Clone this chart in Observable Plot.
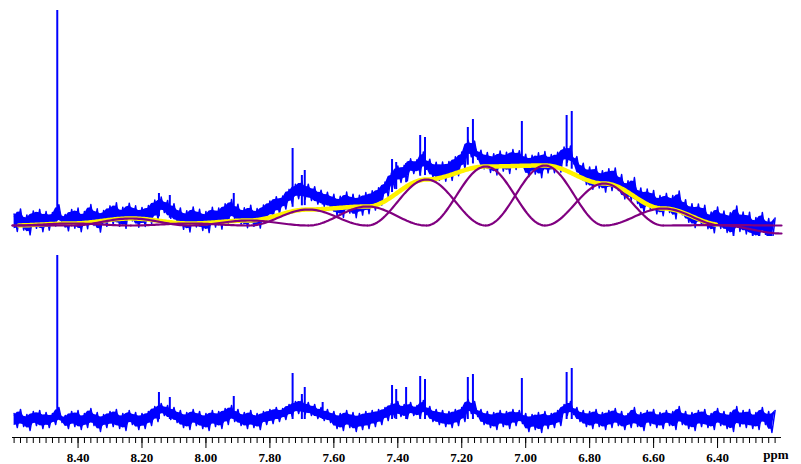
<!DOCTYPE html>
<html><head><meta charset="utf-8">
<script src="https://cdn.jsdelivr.net/npm/d3@7"></script>
<script src="https://cdn.jsdelivr.net/npm/@observablehq/plot@0.6"></script>
<style>
body{margin:0;background:#fff}
#chart{width:801px;height:464px;overflow:hidden;background:#fff}
#chart svg{display:block}
</style>
</head><body><div id="chart"></div>
<script>
// ---- data ----
// residual spectrum (lower trace), sampled every 0.01 ppm from 8.60 ppm downwards, alternating high/low excursions
const ppmStart = 8.60;
const ppmStep = 0.01;
const residual = [
  6,-8,10,-7,5,-11,8,-6,9,-9,
  7,-8,6,-5,12,-3,4,-9,8,-7,
  9,-10,6,-8,11,-6,7,-12,5,-8,
  8,-7,10,-9,6,-11,9,-5,7,-10,
  6,-9,8,-6,13,-2,16,4,14,0,
  12,-3,9,-8,7,-10,10,-6,8,-9,
  6,-11,9,-7,8,-9,11,-5,14,-2,
  10,-6,7,-9,9,-8,6,-10,8,-5,
  10,-4,12,-2,11,0,15,3,18,6,
  20,5,17,4,15,1,12,-1,10,-3,
  8,-9,6,-11,9,-8,7,-12,6,-10,
  8,-9,9,-7,10,-5,12,-1,16,2,
  18,3,15,1,17,4,14,2,19,5,
  13,-2,10,-5,9,-7,8,-8,10,-6,
  12,-2,20,6,18,3,10,-5,8,-8,
  7,-10,9,-7,8,-9,10,-6,9,-4,
  6,-12,5,-10,7,-13,8,-9,6,-8,
  9,-6,15,4,18,5,12,-2,9,-7,
  8,-9,10,-7,7,-10,9,-8,11,-6,
  8,-10,6,-8,12,-7,7,-11,9,-6,
  10,-8,7,-9,9,-6,8,-10,13,-5,
  8,-9,7,-11,9,-7,10,-8,6,-10,
  11,-6,8,-9,7,-12,13,-7,9,-8,
  10,-9,7,-10,12,-5,8,-13,9
];
// sharp peaks: position (ppm), height in upper trace, height in lower trace
const peakPpm    = [8.465, 8.147, 8.113, 7.913, 7.729, 7.700, 7.691, 7.635, 7.418, 7.405, 7.374, 7.330, 7.315, 7.181, 7.165, 7.012, 6.872, 6.856];
const peakTop    = [215,   32,    30,    32,    77,    50,    55,    30,    66,    63,    62,    90,    88,    98,    106,   104,   110,   114];
const peakBottom = [164,   27,    22,    23,    46,    25,    32,    17,    34,    30,    32,    43,    40,    42,    45,    41,    47,    51];
// fitted components (purple): centre (ppm) and amplitude
const lobeCenter = [8.605, 8.420, 8.235, 8.050, 7.865, 7.680, 7.495, 7.310, 7.125, 6.940, 6.755, 6.570, 6.385, 6.200];
const lobeAmp    = [0,     2,     7,     2,     5,     16,    19,    46,    59,    60,    42,    17,    0.5,   -8];
const lobeHalfWidth = 0.185;
// axis
const tickLabels = [8.40, 8.20, 8.00, 7.80, 7.60, 7.40, 7.20, 7.00, 6.80, 6.60, 6.40];
const minorFirst = 8.60, minorStep = 0.02, minorCount = 120;

// ---- derived tables ----
const xDomain = [8.605, 6.20];
const lobe = (c, a, x) => Math.abs(x - c) < lobeHalfWidth ? a * Math.cos(Math.PI * (x - c) / (2 * lobeHalfWidth)) ** 2 : 0;
const fit = x => lobeCenter.reduce((s, c, i) => s + lobe(c, lobeAmp[i], x), 0);

const lowerTrace = residual.map((v, i) => ({ppm: ppmStart - i * ppmStep, v}));
const upperTrace = residual.map((v, i) => {
  const p = ppmStart - i * ppmStep;
  return {ppm: p, v: fit(p) + 1.25 * v + 4};
});
// solid core of the dense trace (part of the local excursion around the local mean)
function core(trace) {
  return trace.map((d, i) => {
    const n = trace[Math.min(i + 1, trace.length - 1)];
    const mid = (d.v + n.v) / 2, half = Math.abs(d.v - n.v) / 2;
    return {ppm: d.ppm, lo: mid - half * 0.7, hi: mid + half * 0.7};
  });
}
const upperCore = core(upperTrace), lowerCore = core(lowerTrace);
const peaks = peakPpm.map((p, i) => ({ppm: p, top: peakTop[i], bottom: peakBottom[i], base: fit(p) + 4}));

const lobeLines = [];
lobeCenter.forEach((c, k) => {
  const lo = Math.max(c - lobeHalfWidth, xDomain[1]), hi = Math.min(c + lobeHalfWidth, xDomain[0]);
  const n = 60;
  for (let j = 0; j <= n; j++) {
    const x = lo + (hi - lo) * j / n;
    lobeLines.push({ppm: x, v: lobe(c, lobeAmp[k], x), k});
  }
});
const sumLine = d3.range(0, 546).map(j => {
  const x = 8.585 - j * 0.004;
  return {ppm: x, v: fit(x)};
});
const minorTicks = d3.range(minorCount).map(i => +(minorFirst - i * minorStep).toFixed(2));

const BLUE = "#0000ff", PURPLE = "#800080", YELLOW = "#fff200";

const traceMarks = (coreData, traceData) => [
  Plot.areaY(coreData, {x: "ppm", y1: "lo", y2: "hi", fill: BLUE}),
  Plot.line(traceData, {x: "ppm", y: "v", stroke: BLUE, strokeWidth: 1.5})
];

// ---- upper panel ----
const topY = [-11, 225];
const upperPlot = Plot.plot({
  width: 801, height: 236,
  marginLeft: 12, marginRight: 20, marginTop: 0, marginBottom: 0,
  x: {domain: xDomain, axis: null},
  y: {domain: topY, axis: null},
  marks: [
    ...traceMarks(upperCore, upperTrace),
    Plot.ruleX(peaks, {x: "ppm", y1: "base", y2: "top", stroke: BLUE, strokeWidth: 2}),
    Plot.line(sumLine, {x: "ppm", y: "v", stroke: YELLOW, strokeWidth: 4.5}),
    Plot.line(lobeLines, {x: "ppm", y: "v", z: "k", stroke: PURPLE, strokeWidth: 2.2})
  ]
});

// ---- lower panel with axis ----
const botY = [-18, 183];
const lowerPlot = Plot.plot({
  width: 801, height: 228,
  marginLeft: 12, marginRight: 20, marginTop: 0, marginBottom: 27,
  x: {domain: xDomain},
  y: {domain: botY, axis: null},
  style: {fontFamily: "'Liberation Serif', 'Times New Roman', serif"},
  marks: [
    ...traceMarks(lowerCore, lowerTrace),
    Plot.ruleX(peaks, {x: "ppm", y1: 0, y2: "bottom", stroke: BLUE, strokeWidth: 2}),
    Plot.ruleY([botY[0]], {stroke: "#000", strokeWidth: 1.2}),
    Plot.axisX({ticks: minorTicks, tickSize: 6, tickFormat: () => "", label: null, stroke: "#000"}),
    Plot.axisX({ticks: tickLabels, tickSize: 11, tickPadding: 4, tickFormat: d3.format(".2f"), label: null,
      fontSize: 13, fontWeight: "bold", fill: "#000", stroke: "#000"}),
    Plot.text(["ppm"], {frameAnchor: "bottom-right", dx: 7, dy: 21, text: d => d, fontSize: 13, fontWeight: "bold", fill: "#000"})
  ]
});

document.getElementById("chart").append(upperPlot, lowerPlot);
</script>
</body></html>
